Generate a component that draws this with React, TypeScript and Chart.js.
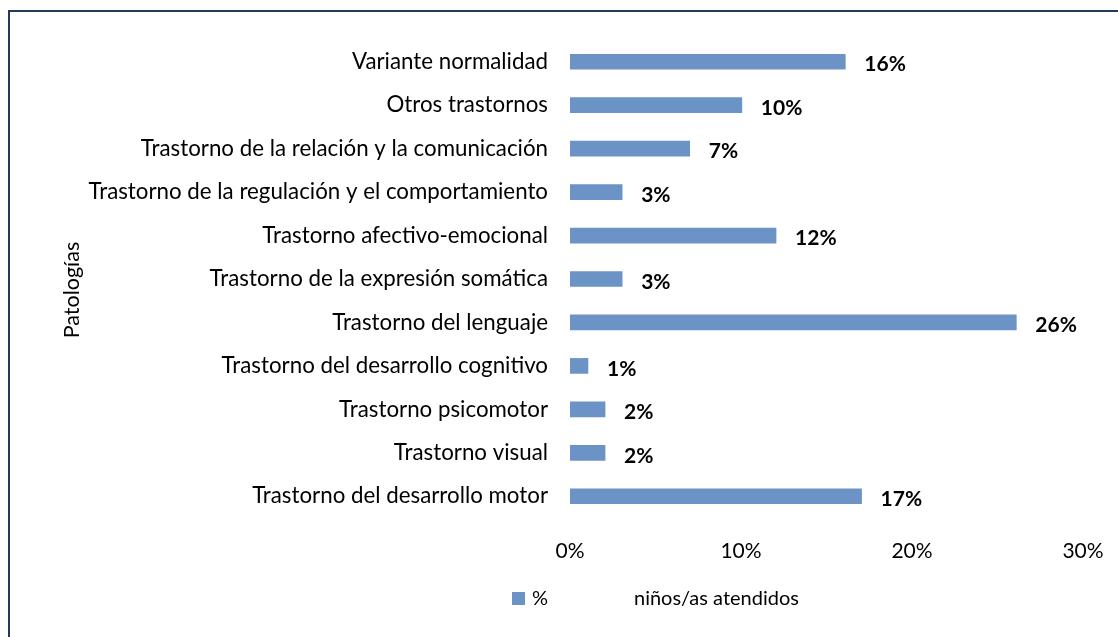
import React, { useEffect, useRef } from "react";
import { Chart, registerables } from "chart.js";

Chart.register(...registerables);

const categories: string[] = [
  "Variante normalidad",
  "Otros trastornos",
  "Trastorno de la relación y la comunicación",
  "Trastorno de la regulación y el comportamiento",
  "Trastorno afectivo-emocional",
  "Trastorno de la expresión somática",
  "Trastorno del lenguaje",
  "Trastorno del desarrollo cognitivo",
  "Trastorno psicomotor",
  "Trastorno visual",
  "Trastorno del desarrollo motor",
];
const values: number[] = [16.1, 10.05, 7.0, 3.05, 12.05, 3.05, 26.1, 1.05, 2.05, 2.05, 17.05];
const valueLabels: string[] = ["16%", "10%", "7%", "3%", "12%", "3%", "26%", "1%", "2%", "2%", "17%"];
const xMin = 0;
const xMax = 30;
const xStep = 10;
const seriesSymbol = "%";
const seriesDescription = "niños/as atendidos";
const yAxisTitle = "Patologías";

const FONT = "Lato, 'Open Sans', sans-serif";
const BAR_COLOR = "#6b93c5";

export default function App() {
  const canvasRef = useRef<HTMLCanvasElement | null>(null);

  useEffect(() => {
    if (!canvasRef.current) return;

    const dataLabelPlugin = {
      id: "dataLabels",
      afterDatasetsDraw(chart: any) {
        const ctx = chart.ctx;
        const meta = chart.getDatasetMeta(0);
        ctx.save();
        ctx.font = `bold 21px ${FONT}`;
        ctx.fillStyle = "#000";
        ctx.textAlign = "left";
        ctx.textBaseline = "middle";
        meta.data.forEach((bar: any, i: number) => {
          ctx.fillText(valueLabels[i], bar.x + 19, bar.y + 3);
        });
        ctx.restore();
      },
    };

    const titleAndLegendPlugin = {
      id: "titleAndLegend",
      afterDraw(chart: any) {
        const ctx = chart.ctx;
        ctx.save();
        // y axis title
        ctx.fillStyle = "#000";
        ctx.font = `21.5px ${FONT}`;
        ctx.textAlign = "center";
        ctx.textBaseline = "middle";
        ctx.translate(62, 278);
        ctx.rotate(-Math.PI / 2);
        ctx.fillText(yAxisTitle, 0, 0);
        ctx.restore();

        ctx.save();
        ctx.fillStyle = BAR_COLOR;
        ctx.fillRect(502, 580, 13, 13);
        ctx.fillStyle = "#000";
        ctx.font = `20px ${FONT}`;
        ctx.textBaseline = "middle";
        ctx.textAlign = "left";
        ctx.fillText(seriesSymbol, 522, 587);
        ctx.fillText(seriesDescription, 624, 587);
        ctx.restore();
      },
    };

    const chart = new Chart(canvasRef.current, {
      type: "bar",
      data: {
        labels: categories,
        datasets: [
          {
            label: seriesSymbol + " " + seriesDescription,
            data: values,
            backgroundColor: BAR_COLOR,
            borderWidth: 0,
            barThickness: 15,
          },
        ],
      },
      options: {
        indexAxis: "y",
        responsive: false,
        animation: false,
        layout: { padding: { top: 28, right: 35, left: 0, bottom: 0 } },
        plugins: {
          legend: { display: false },
          tooltip: { enabled: false },
        },
        scales: {
          x: {
            min: xMin,
            max: xMax,
            grid: { display: false, drawTicks: false },
            border: { display: false },
            ticks: {
              stepSize: xStep,
              color: "#000",
              font: { family: FONT, size: 21 },
              padding: 21,
              callback: (v: any) => `${v}%`,
            },
            afterFit: (s: any) => {
              s.height = 119;
              s.paddingLeft = 0;
              s.paddingRight = 0;
            },
          },
          y: {
            grid: { display: false, drawTicks: false },
            border: { display: false },
            ticks: {
              color: "#000",
              font: { family: FONT, size: 22.3 },
              padding: 22,
            },
            title: { display: false, text: yAxisTitle },
            afterFit: (s: any) => {
              s.width = 560;
              s.paddingTop = 0;
              s.paddingBottom = 0;
            },
          },
        },
      },
      plugins: [dataLabelPlugin, titleAndLegendPlugin],
    });

    return () => chart.destroy();
  }, []);

  return (
    <div
      style={{
        position: "fixed",
        left: 8,
        top: 10,
        width: 1110,
        height: 627,
        borderLeft: "2px solid #22395a",
        borderTop: "2px solid #22395a",
        background: "#fff",
        overflow: "hidden",
      }}
    >
      <canvas ref={canvasRef} width={1108} height={625} style={{ display: "block" }} />
    </div>
  );
}
